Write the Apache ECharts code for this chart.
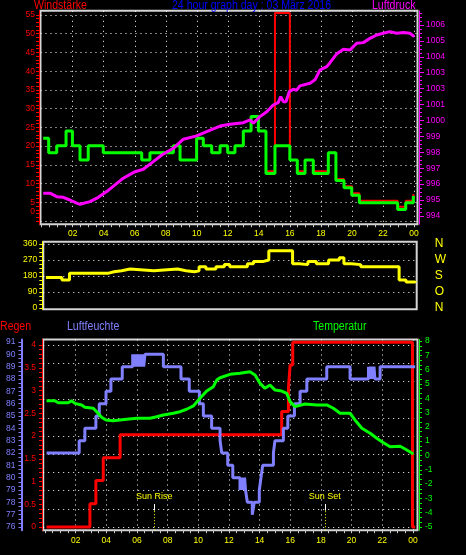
<!DOCTYPE html>
<html><head><meta charset="utf-8">
<script src="https://cdn.jsdelivr.net/npm/echarts@6/dist/echarts.min.js"></script>
<style>html,body{margin:0;padding:0;background:#000;}#c{width:466px;height:555px;}</style>
</head><body><div id="c"></div>
<script>
// ================= DATA =================
const chartTitle = '24 hour graph day : 03 März 2016';
const hourTicks = [2,4,6,8,10,12,14,16,18,20,22,24];
const windTicks = [0,5,10,15,20,25,30,35,40,45,50,55];
const pressureTicks = [994,995,996,997,998,999,1000,1001,1002,1003,1004,1005,1006];
const pressureLabels = ['994','995','996','997','998','999','1000','1001','1003','1003','1004','1005','1006'];
const dirTicks = [0,90,180,270,360];
const compassLabels = ['N','O','S','W','N'];
const rainTicks = [0,0.5,1,1.5,2,2.5,3,3.5,4];
const humTicks = [76,77,78,79,80,81,82,83,84,85,86,87,88,89,90,91];
const tempTicks = [-5,-4,-3,-2,-1,0,1,2,3,4,5,6,7,8];

// wind (step: value holds from time onwards)
const windTimes = [0.1,0.45,0.97,1.57,1.98,2.47,3.0,3.97,6.45,6.98,8.49,8.92,9.99,10.42,10.96,11.5,11.99,12.46,13.0,13.5,13.97,14.46,15.04,16.0,16.48,16.98,17.51,18.48,18.97,19.49,19.99,20.48,22.95,23.47,23.96,24.0];
const windAvg   = [22.1,18.2,20.1,24.0,20.1,16.3,20.1,18.2,16.3,18.2,20.1,16.3,22.1,20.1,18.2,20.1,18.2,20.1,24.0,27.9,24.0,12.7,20.1,16.3,12.7,16.3,12.7,18.2,10.8,8.9,6.9,4.9,3.1,4.9,6.7,6.7];
const windGust  = [22.1,18.2,20.1,24.0,20.1,16.3,20.1,18.2,16.3,18.2,20.1,16.3,22.1,20.1,18.2,20.1,18.2,20.1,24.0,27.9,24.0,13.3,55.5,16.3,13.3,16.3,13.3,18.2,11.2,9.3,7.4,5.4,3.8,5.4,7.2,7.2];

// pressure
const pressTimes  = [0.10,0.54,0.97,1.39,1.82,2.26,2.47,3.11,3.65,4.19,4.73,5.26,6.02,6.55,7.20,7.74,8.49,9.13,9.99,10.64,11.50,12.14,13.00,13.43,13.64,14.07,14.51,14.93,15.25,15.41,15.58,15.75,15.96,16.22,16.44,16.65,17.30,17.62,17.94,18.38,18.59,19.02,19.45,19.88,20.31,20.74,21.17,21.60,22.02,22.45,22.89,23.31,23.74,24.02];
const pressValues = [995.43,995.43,995.21,995.17,995.00,994.80,994.73,994.90,995.17,995.53,995.95,996.37,996.78,996.93,997.41,997.83,998.25,998.82,999.03,999.30,999.65,999.76,999.86,1000.03,999.82,1000.24,1000.55,1000.97,1001.12,1001.50,1001.18,1001.18,1001.81,1001.96,1001.90,1002.17,1002.34,1002.55,1003.17,1003.38,1003.63,1004.18,1004.47,1004.43,1004.85,1004.89,1005.16,1005.37,1005.48,1005.58,1005.48,1005.52,1005.48,1005.27];

// wind direction (step)
const dirTimes  = [0.06,1.1,1.6,4.1,4.5,5.0,5.55,7.1,8.65,9.2,9.75,10.05,10.5,11.15,11.7,12.05,13.2,13.6,14.2,14.6,16.15,16.6,17.15,17.7,18.5,19.2,19.5,20.0,20.6,23.1,23.55,24.15];
const dirValues = [171,158,195,204,210,219,210,219,210,204,210,232,219,232,244,232,249,261,270,322,249,244,261,249,270,283,249,244,232,158,146,152];

// rain (step)
const rainTimes  = [0.1,2.93,3.32,3.80,4.90,15.44,15.88,15.99,16.16,23.97,24.15];
const rainValues = [0,0.51,1.02,1.52,2.03,2.54,3.05,3.56,4.06,0,0];

// humidity (step)
const humTimes  = [0.10,2.23,2.60,3.32,3.54,3.98,4.30,5.04,5.72,5.80,5.88,5.96,6.04,6.12,6.20,6.28,6.36,6.44,6.52,7.72,8.87,9.41,10.07,10.33,10.87,11.42,11.53,11.92,12.25,12.72,12.78,12.84,12.90,12.96,13.02,13.08,13.20,13.52,13.65,13.98,14.09,14.20,14.90,15.00,15.55,15.84,16.27,16.64,17.08,18.38,19.90,21.10,21.16,21.22,21.28,21.34,21.40,21.46,21.52,21.86,24.15];
const humValues = [82,83,84,85,86,87,88,89,90,89,90,89,90,89,90,89,90,89,90,89,88,87,86,85,84,83,82,81,80,79,80,79,80,79,80,79,78,77,78,79,80,81,82,83,84,85,86,87,88,89,88,89,88,89,88,89,88,89,88,89,89];

// temperature
const tempTimes  = [0.10,0.65,0.86,1.52,1.73,1.95,2.39,2.60,3.15,3.37,3.69,3.98,4.45,5.33,5.98,6.85,7.28,7.72,8.37,8.81,9.24,9.68,10.11,10.55,10.98,11.20,11.42,12.07,12.72,13.37,13.70,14.03,14.35,14.68,15.01,15.44,15.77,15.99,16.31,16.96,17.73,18.38,18.81,19.25,19.90,20.22,20.67,21.21,21.64,22.08,22.51,23.17,23.60,24.03];
const tempValues = [3.83,3.83,3.69,3.69,3.83,3.64,3.53,3.37,3.30,3.06,2.67,2.48,2.43,2.53,2.60,2.60,2.71,2.83,2.95,3.06,3.23,3.46,4.00,4.50,4.81,5.27,5.43,5.67,5.74,5.85,5.62,5.04,4.69,4.92,4.57,4.50,4.34,3.76,3.41,3.60,3.53,3.53,3.30,2.95,2.95,2.48,1.90,1.55,1.20,0.89,0.61,0.64,0.38,0.10];

const sunRiseHour = 7.13;
const sunSetHour = 18.25;

// ================= STYLE =================
const F = "'Liberation Sans',Arial,sans-serif";
const FS = 8.5;
const RED = '#ff0000', GREEN = '#00ff00', MAG = '#ff00ff', YEL = '#ffff00', HUM = '#8080ff', BLUE = '#0000ff';
const FRAME = '#d4d4d4';
const dotted = {show:true, lineStyle:{color:'#ffffff', type:[1,4], width:1}};

function seq(a,b,s){const r=[];const n=Math.round((b-a)/s);for(let i=0;i<=n;i++)r.push(+(a+i*s).toFixed(4));return r;}
const pair = (t,v) => t.map((x,i)=>[x,v[i]]);
const hh = v => String(Math.round(v)%24).padStart(2,'0');

const X_TOP = {min:-0.077, max:24.23};
const X_MID = {min:-0.111, max:24.247};
const X_BOT = {min:-0.117, max:24.299};
const Y_WIND = {min:-0.854, max:56.12};
const Y_PRESS = {min:993.48, max:1006.89};
const Y_DIR = {min:-7.3, max:372.9};
const Y_RAIN = {min:-0.0703, max:4.121};
const Y_HUM = {min:75.741, max:91.203};
const Y_TEMP = {min:-5.224, max:8.105};

function hidden(extra){
  return Object.assign({type:'value', axisLine:{show:false, onZero:false}, axisTick:{show:false}, axisLabel:{show:false}, splitLine:{show:false}}, extra);
}
function xMain(grid, range, margin){
  return {type:'value', gridIndex:grid, position:'bottom', min:range.min, max:range.max,
    axisLine:{show:false, onZero:false},
    axisTick:{show:true, customValues:seq(0,24,0.5), length:3, lineStyle:{color:'#cccccc'}},
    axisLabel:{customValues:hourTicks, formatter:hh, color:YEL, fontSize:FS, fontFamily:F, margin:margin},
    splitLine:{show:false}};
}
function xGridLines(grid, range){
  return hidden({gridIndex:grid, position:'bottom', min:range.min, max:range.max,
    axisTick:{show:false, customValues:hourTicks}, splitLine:dotted});
}
function yGridLines(grid, range, vals){
  return hidden({gridIndex:grid, position:'left', min:range.min, max:range.max,
    axisTick:{show:false, customValues:vals}, splitLine:dotted});
}
function yAxisVis(grid, pos, offset, range, color, ticks, labels, margin, fmt, lw){
  return {type:'value', gridIndex:grid, position:pos, offset:offset, min:range.min, max:range.max,
    axisLine:{show:true, onZero:false, lineStyle:{color:color, width:lw||1}},
    axisTick:{show:true, customValues:ticks, length:3, lineStyle:{color:color}},
    axisLabel:{customValues:labels, color:color, fontSize:FS, fontFamily:F, margin:margin, formatter:fmt},
    splitLine:{show:false}};
}
function title(text, x, y, color){
  return {type:'text', x:x, y:y, scaleX:0.88, silent:true,
    style:{text:text, fill:color, font:'12px '+F, align:'left', verticalAlign:'middle'}};
}

const chart = echarts.init(document.getElementById('c'), null, {renderer:'canvas'});
const gridStyle = {show:true, borderColor:FRAME, borderWidth:2, backgroundColor:'transparent', containLabel:false};

const windAxis = yAxisVis(0,'left',1.5,Y_WIND,RED,seq(0,55,1),windTicks,4,
  v => Math.round(v)===0 ? '{z|0}' : String(Math.round(v)));
windAxis.axisLabel.rich = {z:{color:RED, fontSize:FS, fontFamily:F, padding:[0,0,18,0]}};

const option = {
  backgroundColor:'#000000',
  animation:false,
  grid:[
    Object.assign({left:40.5, top:10.8, width:377, height:213.4}, gridStyle),
    Object.assign({left:43.3, top:241.7, width:373.4, height:67.6}, gridStyle),
    Object.assign({left:43.2, top:339.5, width:374.3, height:190.7}, gridStyle)
  ],
  xAxis:[
    xMain(0, X_TOP, 5),
    xGridLines(0, X_TOP),
    hidden({gridIndex:1, position:'bottom', min:X_MID.min, max:X_MID.max}),
    xMain(2, X_BOT, 6),
    xGridLines(2, X_BOT)
  ],
  yAxis:[
    windAxis,                                                                                     // 0
    yAxisVis(0,'right',1.5,Y_PRESS,MAG,seq(994,1006.75,0.25),pressureTicks,7,
      v => pressureLabels[pressureTicks.indexOf(Math.round(v))]),                                 // 1
    hidden({gridIndex:0, position:'right', offset:1.5, min:Y_PRESS.min, max:Y_PRESS.max,
      axisTick:{show:true, customValues:pressureTicks, length:5, lineStyle:{color:MAG}}}),        // 2
    yGridLines(0, Y_WIND, windTicks),                                                             // 3
    yAxisVis(1,'left',1,Y_DIR,YEL,seq(0,360,22.5),dirTicks,5, v=>String(Math.round(v))),          // 4
    hidden({gridIndex:1, position:'right', offset:0, min:Y_DIR.min, max:Y_DIR.max,
      axisLabel:{show:true, customValues:dirTicks, color:YEL, fontSize:12, fontFamily:F, margin:18,
        formatter: v => compassLabels[dirTicks.indexOf(Math.round(v))]}}),                       // 5
    yGridLines(1, Y_DIR, [90,180,270,360]),                                                       // 6
    yAxisVis(2,'left',1.2,Y_RAIN,RED,seq(0,4,0.1),rainTicks,6, v=>String(v)),                     // 7
    yAxisVis(2,'left',21.7,Y_HUM,HUM,seq(76,91,1/3),humTicks,6, v=>String(Math.round(v)),2),      // 8
    yAxisVis(2,'right',1.5,Y_TEMP,GREEN,seq(-5,8,1/3),tempTicks,6, v=>String(Math.round(v))),     // 9
    yGridLines(2, Y_RAIN, seq(0,4,0.4))                                                           // 10
  ],
  graphic:[
    title('Windstärke', 34, 6, RED),
    title(chartTitle, 172, 6, BLUE),
    title('Luftdruck', 372, 6, MAG),
    title('Regen', 0, 327, RED),
    title('Luftfeuchte', 67, 327, HUM),
    title('Temperatur', 313, 327, GREEN)
  ],
  series:[
    {type:'line', name:'Böen', xAxisIndex:0, yAxisIndex:0, step:'end', symbol:'none',
      lineStyle:{color:RED, width:2}, data:pair(windTimes, windGust)},
    {type:'line', name:'Wind', xAxisIndex:0, yAxisIndex:0, step:'end', symbol:'none',
      lineStyle:{color:GREEN, width:3}, data:pair(windTimes, windAvg)},
    {type:'line', name:'Luftdruck', xAxisIndex:0, yAxisIndex:1, symbol:'none',
      lineStyle:{color:MAG, width:3}, data:pair(pressTimes, pressValues)},
    {type:'line', name:'Windrichtung', xAxisIndex:2, yAxisIndex:4, step:'end', symbol:'none',
      lineStyle:{color:YEL, width:3}, data:pair(dirTimes, dirValues)},
    {type:'line', name:'Regen', xAxisIndex:3, yAxisIndex:7, step:'end', symbol:'none',
      lineStyle:{color:RED, width:3}, data:pair(rainTimes, rainValues),
      markLine:{silent:true, symbol:['none','none'], animation:false,
        data:[
          [{coord:[sunRiseHour,0.36], lineStyle:{color:'#ffffff', type:'solid', width:1},
            label:{show:true, position:'end', formatter:'Sun Rise', color:YEL, fontSize:9, fontFamily:F, distance:3}},
           {coord:[sunRiseHour,0.505]}],
          [{coord:[sunRiseHour,-0.07], lineStyle:{color:YEL, type:[1,2], width:1}, label:{show:false}},
           {coord:[sunRiseHour,0.36]}],
          [{coord:[sunSetHour,0.36], lineStyle:{color:'#ffffff', type:'solid', width:1},
            label:{show:true, position:'end', formatter:'Sun Set', color:YEL, fontSize:9, fontFamily:F, distance:3}},
           {coord:[sunSetHour,0.505]}],
          [{coord:[sunSetHour,-0.07], lineStyle:{color:YEL, type:[1,2], width:1}, label:{show:false}},
           {coord:[sunSetHour,0.36]}]
        ]}},
    {type:'line', name:'Luftfeuchte', xAxisIndex:3, yAxisIndex:8, step:'end', symbol:'none',
      lineStyle:{color:HUM, width:3}, data:pair(humTimes, humValues)},
    {type:'line', name:'Temperatur', xAxisIndex:3, yAxisIndex:9, symbol:'none',
      lineStyle:{color:GREEN, width:3}, data:pair(tempTimes, tempValues)}
  ]
};
chart.setOption(option);
</script></body></html>
